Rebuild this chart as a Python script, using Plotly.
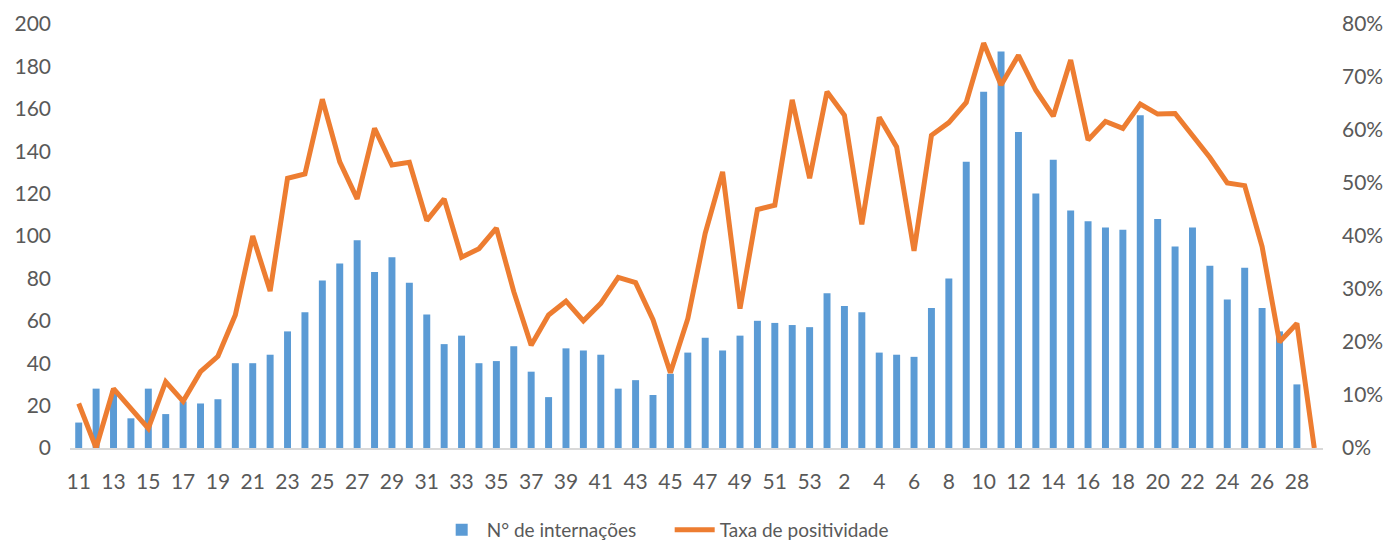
import plotly.graph_objects as go

weeks = ["11","12","13","14","15","16","17","18","19","20","21","22","23","24","25","26","27","28","29","30",
         "31","32","33","34","35","36","37","38","39","40","41","42","43","44","45","46","47","48","49","50",
         "51","52","53","1","2","3","4","5","6","7","8","9","10","11","12","13","14","15","16","17",
         "18","19","20","21","22","23","24","25","26","27","28","29"]

internacoes = [12, 28, 27, 14, 28, 16, 22, 21, 23, 40, 40, 44, 55, 64, 79, 87, 98, 83, 90, 78,
               63, 49, 53, 40, 41, 48, 36, 24, 47, 46, 44, 28, 32, 25, 35, 45, 52, 46, 53, 60,
               59, 58, 57, 73, 67, 64, 45, 44, 43, 66, 80, 135, 168, 187, 149, 120, 136, 112, 107, 104,
               103, 157, 108, 95, 104, 86, 70, 85, 66, 55, 30, 0]

positividade = [0.084, 0.0, 0.112, 0.075, 0.037, 0.125, 0.088, 0.144, 0.173, 0.251, 0.400, 0.296, 0.509, 0.517, 0.658, 0.540, 0.470, 0.603, 0.534, 0.539,
                0.429, 0.470, 0.360, 0.376, 0.415, 0.295, 0.194, 0.251, 0.277, 0.240, 0.273, 0.322, 0.312, 0.242, 0.142, 0.244, 0.405, 0.521, 0.263, 0.450,
                0.458, 0.657, 0.509, 0.672, 0.628, 0.422, 0.624, 0.568, 0.372, 0.590, 0.614, 0.652, 0.764, 0.685, 0.741, 0.675, 0.626, 0.732, 0.581, 0.616,
                0.603, 0.649, 0.630, 0.631, 0.590, 0.548, 0.500, 0.495, 0.380, 0.200, 0.235, 0.0]

idx = list(range(len(weeks)))
tickvals = idx[::2]
ticktext = [weeks[i] for i in tickvals]

font_family = "Lato, 'Open Sans', sans-serif"
grey = "#595959"
fs = 21

fig = go.Figure()
fig.add_trace(go.Bar(x=idx, y=internacoes, name="N° de internações",
                     marker=dict(color="#5B9BD5", line=dict(width=0)), yaxis="y"))
fig.add_trace(go.Scatter(x=idx, y=positividade, name="Taxa de positividade", mode="lines",
                         line=dict(color="#ED7D31", width=5), yaxis="y2"))

fig.update_layout(
    width=1391, height=543,
    margin=dict(l=62, r=76, t=16, b=103, autoexpand=False),
    paper_bgcolor="white", plot_bgcolor="white",
    bargap=0.6,
    font=dict(family=font_family, size=fs, color=grey),
    xaxis=dict(range=[-0.5, len(weeks) - 0.5], tickmode="array", tickvals=tickvals, ticktext=ticktext,
               showgrid=False, zeroline=False, showline=True, linecolor="#D9D9D9", linewidth=2,
               ticks="", tickfont=dict(size=fs, color=grey), ticklabelstandoff=14, automargin=False),
    yaxis=dict(range=[0, 200], dtick=20, showgrid=False, zeroline=False, ticks="",
               tickfont=dict(size=fs, color=grey), ticklabelstandoff=18, automargin=False),
    yaxis2=dict(range=[0, 0.8], dtick=0.1, tickformat=".0%", overlaying="y", side="right",
                showgrid=False, zeroline=False, ticks="", tickfont=dict(size=fs, color=grey),
                ticklabelstandoff=18, automargin=False),
    legend=dict(orientation="h", x=0.4786, xanchor="center", y=-0.193, yanchor="middle",
                font=dict(size=19, color=grey), itemwidth=40, entrywidth=178, entrywidthmode="pixels"),
    showlegend=True,
)

fig.write_html("out.html")
